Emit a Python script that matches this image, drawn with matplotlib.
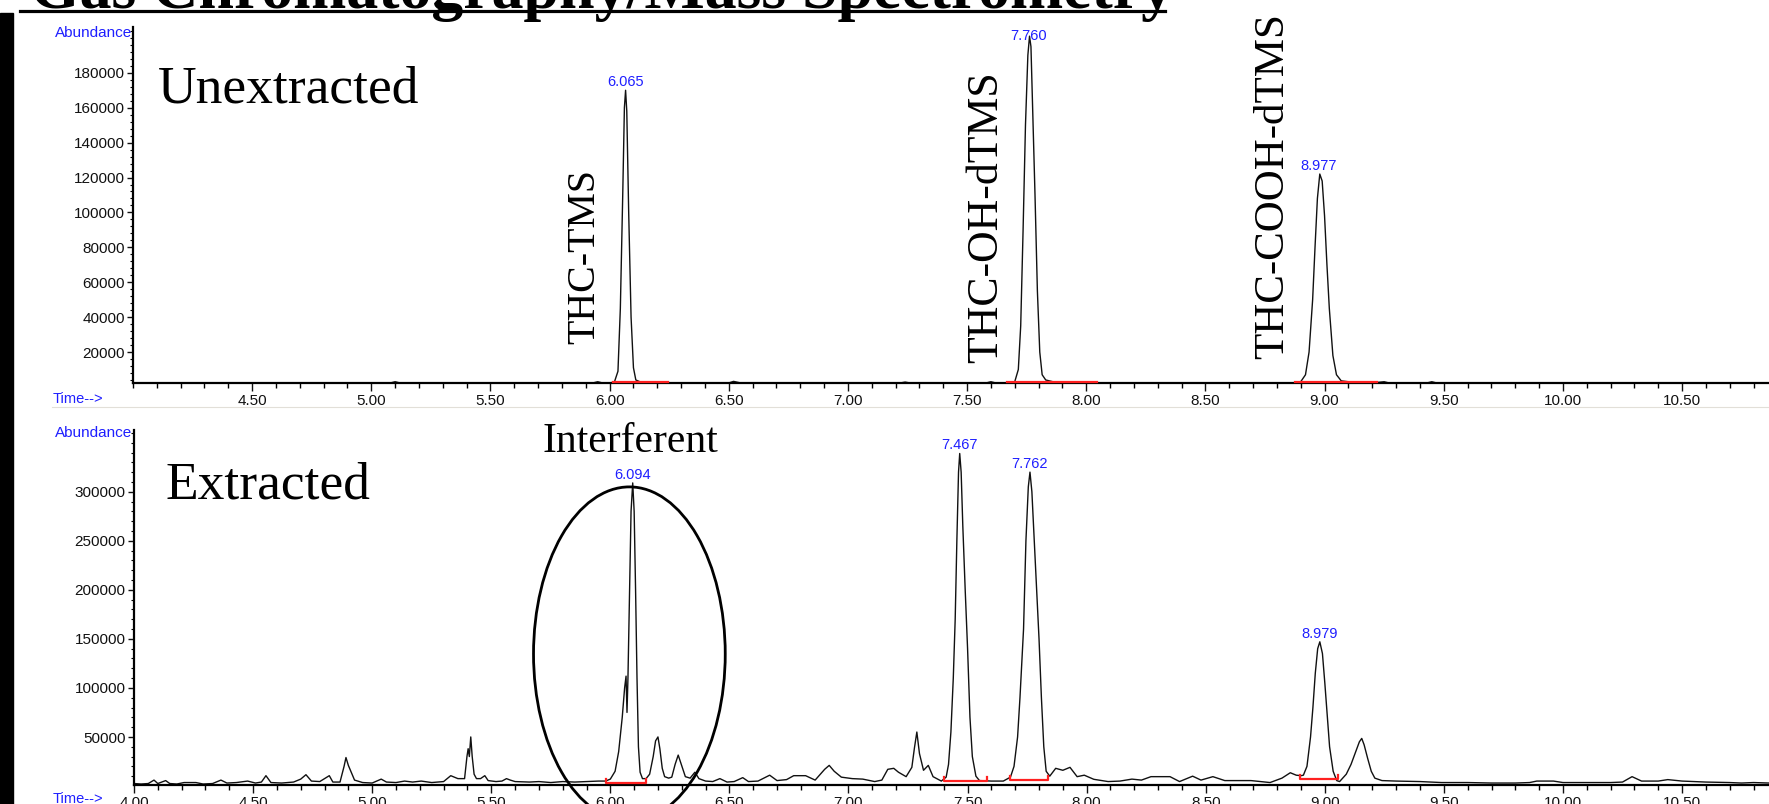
import matplotlib
matplotlib.use("Agg")
import matplotlib.pyplot as plt
import numpy as np
from matplotlib.patches import Ellipse, Rectangle
from matplotlib.lines import Line2D
from matplotlib.ticker import FixedLocator, MultipleLocator, FormatStrFormatter

# ---- data (time in min, abundance) ----
unext_time = [4.00, 5.08, 5.10, 5.12, 5.93, 5.95, 5.97, 6.00, 6.02, 6.035, 6.045, 6.055,
              6.062, 6.067, 6.072, 6.080, 6.090, 6.100, 6.110, 6.13, 6.20, 6.50, 6.52,
              6.55, 7.22, 7.24, 7.26, 7.58, 7.60, 7.62, 7.68, 7.70, 7.715, 7.725, 7.735,
              7.745, 7.755, 7.762, 7.768, 7.775, 7.785, 7.795, 7.805, 7.815, 7.83, 7.86,
              7.90, 8.88, 8.90, 8.92, 8.935, 8.95, 8.96, 8.97, 8.98, 8.99, 9.00, 9.01,
              9.02, 9.035, 9.05, 9.07, 9.10, 9.15, 9.20, 9.25, 9.27, 9.43, 9.45, 9.47,
              10.865]
unext_abund = [2300, 2300, 3000, 2300, 2300, 3000, 2300, 2300, 2800, 9000, 45000, 110000,
               160000, 170000, 158000, 100000, 40000, 11000, 4000, 2800, 2300, 2300, 3200,
               2300, 2300, 2800, 2300, 2300, 3000, 2300, 2300, 3000, 10000, 35000, 90000,
               150000, 190000, 201000, 195000, 160000, 110000, 55000, 20000, 7000, 4000, 3000,
               2300, 2300, 3000, 7000, 20000, 50000, 80000, 108000, 122000, 118000, 98000, 70000,
               45000, 18000, 7000, 3500, 3000, 2800, 2300, 3000, 2300, 2300, 3000, 2300,
               2300]

ext_time = [4.00, 4.03, 4.06, 4.084, 4.10, 4.133, 4.15, 4.18, 4.21, 4.26, 4.29, 4.33,
            4.365, 4.39, 4.43, 4.477, 4.51, 4.535, 4.554, 4.575, 4.62, 4.67, 4.70, 4.722,
            4.745, 4.78, 4.82, 4.835, 4.865, 4.882, 4.89, 4.90, 4.912, 4.926, 4.96, 5.00,
            5.038, 5.06, 5.10, 5.136, 5.17, 5.206, 5.25, 5.30, 5.33, 5.36, 5.388, 5.398,
            5.403, 5.408, 5.414, 5.42, 5.428, 5.438, 5.455, 5.473, 5.487, 5.52, 5.545, 5.564,
            5.58, 5.60, 5.66, 5.70, 5.75, 5.80, 5.85, 5.90, 5.95, 5.98, 6.00, 6.02,
            6.035, 6.05, 6.060, 6.066, 6.070, 6.074, 6.080, 6.087, 6.094, 6.100, 6.106, 6.112,
            6.118, 6.125, 6.135, 6.15, 6.165, 6.18, 6.19, 6.20, 6.208, 6.218, 6.228, 6.245,
            6.258, 6.272, 6.285, 6.298, 6.315, 6.335, 6.355, 6.372, 6.40, 6.43, 6.46, 6.49,
            6.52, 6.556, 6.58, 6.62, 6.669, 6.70, 6.74, 6.77, 6.82, 6.86, 6.90, 6.919,
            6.94, 6.97, 7.016, 7.06, 7.11, 7.14, 7.165, 7.19, 7.21, 7.242, 7.266, 7.277,
            7.287, 7.298, 7.315, 7.335, 7.355, 7.39, 7.41, 7.42, 7.43, 7.44, 7.448, 7.455,
            7.462, 7.467, 7.473, 7.48, 7.49, 7.50, 7.51, 7.52, 7.535, 7.55, 7.60, 7.65,
            7.68, 7.695, 7.71, 7.72, 7.735, 7.745, 7.755, 7.762, 7.77, 7.78, 7.79, 7.80,
            7.81, 7.82, 7.83, 7.845, 7.87, 7.90, 7.93, 7.96, 7.99, 8.03, 8.09, 8.14,
            8.19, 8.23, 8.27, 8.35, 8.39, 8.445, 8.48, 8.53, 8.58, 8.69, 8.77, 8.82,
            8.855, 8.88, 8.90, 8.91, 8.925, 8.94, 8.95, 8.96, 8.97, 8.979, 8.99, 9.00,
            9.01, 9.02, 9.035, 9.05, 9.062, 9.075, 9.09, 9.11, 9.13, 9.145, 9.155, 9.165,
            9.18, 9.195, 9.21, 9.24, 9.30, 9.40, 9.49, 9.60, 9.70, 9.80, 9.86, 9.89,
            9.96, 10.00, 10.10, 10.20, 10.25, 10.29, 10.33, 10.40, 10.44, 10.50, 10.60, 10.70,
            10.75, 10.80, 10.865]
ext_abund = [2500, 2000, 2500, 6000, 2500, 5500, 2500, 2000, 3500, 3500, 2000, 2500,
             6000, 3000, 3500, 5000, 3000, 4000, 10500, 3500, 3000, 4000, 7000, 11500,
             5000, 4500, 10500, 4000, 4000, 20000, 29000, 21000, 14000, 6000, 3500, 3000,
             7000, 4000, 3500, 5000, 4000, 5000, 3500, 4500, 10500, 7500, 7500, 30000,
             38000, 30000, 50000, 30000, 12000, 7500, 7500, 10500, 5500, 4500, 5000, 7500,
             6000, 4500, 4000, 4500, 3500, 4500, 4000, 4500, 5000, 5000, 7000, 15000,
             35000, 70000, 100000, 112000, 75000, 110000, 190000, 280000, 309000, 280000, 200000, 110000,
             40000, 14000, 7500, 7500, 12000, 30000, 46000, 50000, 38000, 18000, 9500, 8000,
             9000, 22000, 31500, 22000, 9500, 8000, 14000, 7500, 5000, 4500, 7500, 4000,
             4500, 8500, 4500, 5000, 11000, 5500, 6500, 10500, 10500, 6000, 17000, 21000,
             15000, 9000, 7500, 7000, 4500, 6000, 17000, 18000, 14000, 9500, 19000, 39000,
             55000, 33000, 16000, 21000, 9500, 5000, 9000, 22000, 55000, 110000, 170000, 250000,
             320000, 339000, 320000, 265000, 200000, 140000, 70000, 30000, 10000, 5500, 5000, 5000,
             9000, 20000, 50000, 90000, 160000, 250000, 305000, 320000, 300000, 250000, 200000, 150000,
             90000, 40000, 15000, 10000, 18000, 16000, 19000, 9500, 11000, 6800, 4500, 5000,
             7000, 6000, 9500, 9500, 4500, 10000, 6000, 9500, 5500, 5500, 3500, 8000,
             13500, 11000, 10500, 11000, 20000, 50000, 80000, 115000, 140000, 147000, 135000, 105000,
             72000, 40000, 15000, 5500, 4500, 8000, 12000, 22000, 35000, 45000, 48500, 42000,
             28000, 15000, 8000, 5500, 5000, 4500, 3500, 3500, 3000, 3000, 3500, 5000,
             5000, 3500, 3500, 3500, 4000, 9500, 5000, 5000, 6500, 5000, 4000, 3500,
             3000, 3500, 3000]

# peak labels (retention time, apex abundance)
unext_peak_rt = [6.065, 7.760, 8.977]
unext_peak_ab = [170000, 201000, 122000]
ext_peak_rt = [6.094, 7.467, 7.762, 8.979]
ext_peak_ab = [309000, 339000, 320000, 147000]

# integration baselines (start, end, level)
unext_integ = [(6.014, 6.245, 2800), (7.667, 8.045, 2800), (8.876, 9.22, 2800)]
ext_integ = [(5.981, 6.148, 3400), (7.403, 7.581, 5000), (7.677, 7.839, 6100), (8.896, 9.055, 6800)]

W, H = 1769, 804
BLUE = "#1f1fff"
plt.rcParams["font.family"] = ["Liberation Sans", "DejaVu Sans"]


def fx(x):
    return x / W


def fy(y):
    return 1 - y / H


fig = plt.figure(figsize=(W / 100, H / 100 + 0.001), dpi=100)
fig.patch.set_facecolor("white")

ax1 = fig.add_axes([fx(133), fy(383), 1 - fx(133), (383 - 27) / H])
ax2 = fig.add_axes([fx(134), fy(785), 1 - fx(134), (785 - 430) / H])


def style_axis(ax, ymajor, yminor, xmajor):
    for s in ["top", "right"]:
        ax.spines[s].set_visible(False)
    for s in ["left", "bottom"]:
        ax.spines[s].set_linewidth(1.6)
        ax.spines[s].set_color("black")
    ax.set_xlim(4.0, 10.865)
    ax.xaxis.set_major_locator(FixedLocator(xmajor))
    ax.xaxis.set_minor_locator(MultipleLocator(0.1))
    ax.xaxis.set_major_formatter(FormatStrFormatter("%.2f"))
    ax.yaxis.set_major_locator(FixedLocator(ymajor))
    ax.yaxis.set_minor_locator(MultipleLocator(yminor))
    ax.yaxis.set_major_formatter(FormatStrFormatter("%d"))
    ax.tick_params(axis="x", which="major", direction="out", length=6, width=1, pad=2,
                   labelsize=11, colors="#111111")
    ax.tick_params(axis="x", which="minor", direction="out", length=3.5, width=1)
    ax.tick_params(axis="y", which="major", direction="out", length=4.5, width=1, pad=1.5,
                   labelsize=11, colors="#111111")
    ax.tick_params(axis="y", which="minor", direction="out", length=2.2, width=0.8)
    ax.set_facecolor("white")


# top panel
ax1.plot(unext_time, unext_abund, color="#111111", lw=1.0)
for t0, t1, lvl in unext_integ:
    ax1.plot([t0, t1], [lvl, lvl], color="#ff2020", lw=1.6, zorder=3, clip_on=False)
ax1.set_ylim(2300, 206300)
style_axis(ax1, list(range(20000, 180001, 20000)), 4000, np.arange(4.5, 10.51, 0.5))
lifts = [6, 0, 6]
for rt, ab, lf in zip(unext_peak_rt, unext_peak_ab, lifts):
    ax1.annotate(f"{rt:.3f}", (rt, ab), xytext=(0, lf), textcoords="offset points",
                 ha="center", va="center", color=BLUE, fontsize=10.5)

# bottom panel
ax2.plot(ext_time, ext_abund, color="#111111", lw=1.0)
for t0, t1, lvl in ext_integ:
    ax2.plot([t0, t0, t1, t1], [lvl + 4000, lvl, lvl, lvl + 4000], color="#ff2020",
             lw=1.6, zorder=3)
ax2.set_ylim(1000, 363000)
style_axis(ax2, list(range(50000, 300001, 50000)), 10000, np.arange(4.0, 10.51, 0.5))
for rt, ab in zip(ext_peak_rt, ext_peak_ab):
    ax2.annotate(f"{rt:.3f}", (rt, ab), xytext=(0, 6), textcoords="offset points",
                 ha="center", va="center", color=BLUE, fontsize=10.5)

ax2.add_patch(Ellipse((6.08, 134600), 0.805, 340700, fill=False, edgecolor="black",
                      lw=2.0, clip_on=False, zorder=5))

# axis captions in the instrument style
for ybase in (33, 433):
    fig.text(fx(132), fy(ybase), "Abundance", ha="right", va="center", color=BLUE, fontsize=11)
for ybase in (399, 799):
    fig.text(fx(53), fy(ybase), "Time-->", ha="left", va="center", color=BLUE, fontsize=10.5)

serif = ["Liberation Serif", "DejaVu Serif"]
fig.text(fx(158), fy(102), "Unextracted", family=serif, fontsize=38.5, va="baseline", ha="left")
fig.text(fx(165), fy(498), "Extracted", family=serif, fontsize=38.5, va="baseline", ha="left")
fig.text(fx(542), fy(452), "Interferent", family=serif, fontsize=30, va="baseline", ha="left")
for label, xc, yb, fs in [("THC-TMS", 585, 344, 28.7), ("THC-OH-dTMS", 986, 363, 31.5),
                          ("THC-COOH-dTMS", 1273, 359, 31)]:
    fig.text(fx(xc), fy(yb), label, family=serif, fontsize=fs, rotation=90,
             ha="center", va="bottom")

# slide title (cut off at the top) with underline
fig.text(fx(30), fy(8), "Gas Chromatography/Mass Spectrometry", family=serif,
         fontsize=46, fontweight="bold", ha="left", va="baseline")
fig.add_artist(Line2D([fx(20), fx(1165)], [fy(11.5), fy(11.5)], color="black", lw=2.3))

# slide decorations
fig.add_artist(Rectangle((0, 0), fx(13), fy(13), transform=fig.transFigure,
                         color="black", zorder=10))
fig.add_artist(Line2D([fx(52), 1], [fy(407), fy(407)], color="#e2dfd8", lw=0.8))

fig.savefig("out.png", dpi=100)
